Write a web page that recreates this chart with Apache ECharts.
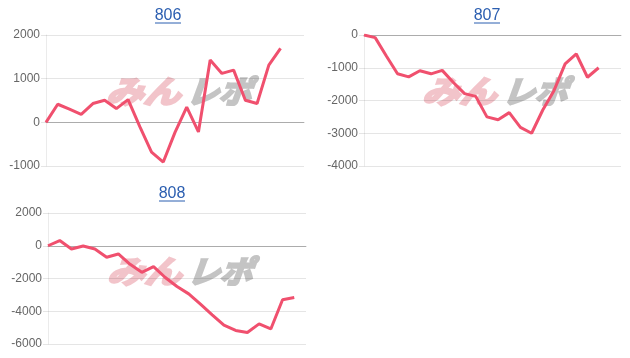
<!DOCTYPE html>
<html>
<head>
<meta charset="utf-8">
<script src="https://cdn.jsdelivr.net/npm/echarts@6/dist/echarts.min.js"></script>
<style>
html,body{margin:0;padding:0;background:#fff;}
#c{width:630px;height:358px;}
</style>
</head>
<body>
<div id="c"></div>
<script>
var titles = ['806', '807', '808'];
var cats806 = ['1','2','3','4','5','6','7','8','9','10','11','12','13','14','15','16','17','18','19','20','21','22','23'];
var cats807 = ['1','2','3','4','5','6','7','8','9','10','11','12','13','14','15','16','17','18','19','20','21','22','23','24'];
var cats808 = ['1','2','3','4','5','6','7','8','9','10','11','12','13','14','15','16','17','18','19','20','21','22','23'];
var values806 = [0, 414, 300, 184, 430, 505, 315, 520, -100, -680, -910, -230, 350, -220, 1425, 1120, 1195, 505, 430, 1310, 1695];
var values807 = [0, -80, -640, -1185, -1280, -1090, -1185, -1080, -1450, -1790, -1875, -2500, -2590, -2370, -2820, -3000, -2290, -1700, -880, -580, -1290, -1000];
var values808 = [0, 320, -200, -20, -200, -700, -500, -1130, -1620, -1270, -1940, -2490, -2940, -3570, -4220, -4850, -5170, -5300, -4770, -5080, -3300, -3160];
var yTicks806 = {min: -1000, max: 2000, interval: 1000};
var yTicks807 = {min: -4000, max: 0, interval: 1000};
var yTicks808 = {min: -6000, max: 2000, interval: 2000};

var chart = echarts.init(document.getElementById('c'), null, {renderer: 'canvas'});

var LINE = 'rgb(240,80,110)';
var FONT = '"Liberation Sans", Arial, sans-serif';

var grids = [
  {left: 46, top: 35, width: 258, height: 131},
  {left: 364, top: 35, width: 257, height: 131},
  {left: 48, top: 213, width: 258, height: 131}
];
var cats = [cats806, cats807, cats808];
var vals = [values806, values807, values808];
var ticks = [yTicks806, yTicks807, yTicks808];

var xAxes = [], yAxes = [], series = [];
for (var i = 0; i < 3; i++) {
  xAxes.push({
    type: 'category', gridIndex: i, data: cats[i], boundaryGap: false,
    axisLabel: {show: false}, axisTick: {show: false},
    axisLine: {show: true, onZero: true, lineStyle: {color: 'rgba(0,0,0,0.25)', width: 1}},
    splitLine: {show: false}
  });
  yAxes.push({
    type: 'value', gridIndex: i, min: ticks[i].min, max: ticks[i].max, interval: ticks[i].interval,
    axisLine: {show: true, lineStyle: {color: 'rgba(0,0,0,0.08)'}},
    axisTick: {show: true, length: 5, lineStyle: {color: 'rgba(0,0,0,0.1)'}},
    axisLabel: {color: '#666', fontSize: 12, fontFamily: FONT, margin: 6,
      formatter: function (v) { return String(v); }},
    splitLine: {show: true, lineStyle: {color: 'rgba(0,0,0,0.1)', width: 1}}
  });
  series.push({
    type: 'line', xAxisIndex: i, yAxisIndex: i, data: vals[i],
    showSymbol: false, symbol: 'none', smooth: false,
    lineStyle: {color: LINE, width: 3}, z: 5
  });
}

// titles (underlined links) and watermark
var titlePos = [[168, 16], [487, 16], [172, 194]];
var wmPos = [[110, 91], [426, 91], [111, 271]];
var graphics = [];
for (var j = 0; j < 3; j++) {
  graphics.push({
    type: 'text', x: titlePos[j][0], y: titlePos[j][1], z: 10,
    style: {text: titles[j], fill: '#2b5eb0', font: '16px ' + FONT, align: 'center', verticalAlign: 'middle'}
  });
  graphics.push({
    type: 'line', z: 10,
    shape: {x1: titlePos[j][0] - 13, y1: titlePos[j][1] + 7, x2: titlePos[j][0] + 13, y2: titlePos[j][1] + 7},
    style: {stroke: '#2b5eb0', lineWidth: 1}
  });
  graphics.push({
    type: 'text', x: wmPos[j][0], y: wmPos[j][1], z: 0, scaleX: 1.2, skewX: -0.35,
    style: {text: 'みん', fill: 'rgb(242,196,202)', stroke: 'rgb(242,196,202)', lineWidth: 2.5,
      font: 'bold 31px "Noto Sans CJK JP"', align: 'left', verticalAlign: 'middle'}
  });
  graphics.push({
    type: 'text', x: wmPos[j][0] + 80, y: wmPos[j][1], z: 0, scaleX: 1.05, skewX: -0.35,
    style: {text: 'レポ', fill: 'rgb(196,196,196)', stroke: 'rgb(196,196,196)', lineWidth: 2.5,
      font: 'bold 31px "Noto Sans CJK JP"', align: 'left', verticalAlign: 'middle'}
  });
}

chart.setOption({
  animation: false,
  grid: grids,
  xAxis: xAxes,
  yAxis: yAxes,
  series: series,
  graphic: graphics
});
</script>
</body>
</html>
